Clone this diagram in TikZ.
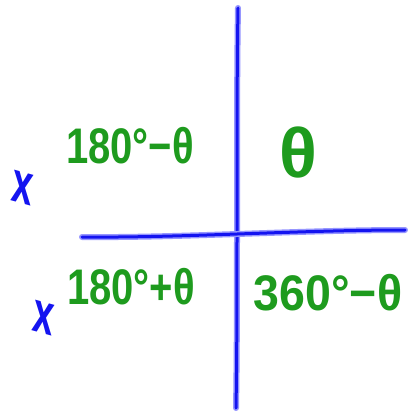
\documentclass[tikz,border=0pt]{standalone}
\usepackage{fontspec}
\setmainfont{Liberation Sans}
\definecolor{pen}{RGB}{30,155,30}
\definecolor{ink}{RGB}{20,20,240}
\definecolor{inkhalo}{RGB}{150,150,255}
\tikzset{
  axis/.style={ink, line width=3pt, line cap=round, preaction={draw=inkhalo, line width=6pt, line cap=round}},
  lbl/.style={text=pen, font=\fontsize{50}{52}\selectfont\bfseries, inner sep=0pt, anchor=center},
  xmark/.style={text=ink, font=\fontsize{42}{44}\selectfont\bfseries, inner sep=0pt, yscale=1.4, xscale=0.9}
}
\begin{document}
\begin{tikzpicture}[x=1pt,y=-1pt]
\useasboundingbox[fill=white] (0,0) rectangle (407,412);
\coordinate (vt) at (238,8);
\coordinate (vb) at (236,408);
\coordinate (hl) at (82,237);
\coordinate (hr) at (405,230);
\draw[axis] (vt) .. controls (236,120) and (238,300) .. (vb);
\draw[axis] (hl) .. controls (180,238) and (300,230) .. (hr);
\node[lbl, xscale=0.8] (q2) at (130,146) {180°−θ};
\node[lbl, font=\fontsize{70}{72}\selectfont\bfseries] (q1) at (298,152) {θ};
\node[lbl, xscale=0.8] (q3) at (131,287) {180°+θ};
\node[lbl, xscale=0.93] (q4) at (328,293) {360°−θ};
\node[xmark, rotate=-10] (x1) at (23,188) {x};
\node[xmark, rotate=-10] (x2) at (44,318) {x};
\end{tikzpicture}
\end{document}
